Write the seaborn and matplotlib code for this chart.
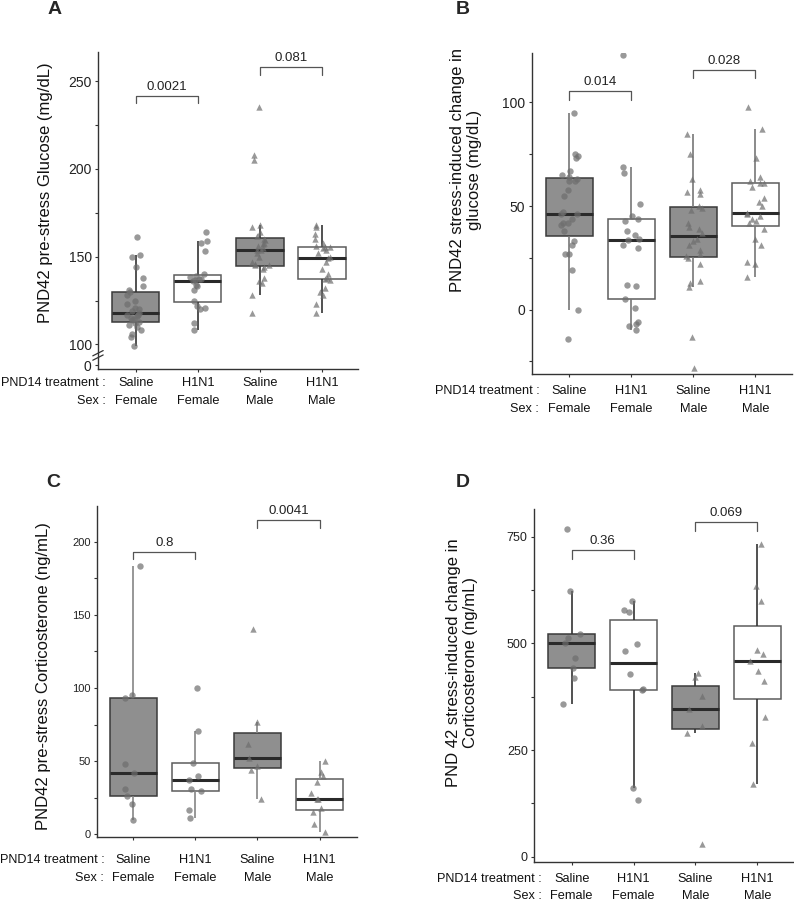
import numpy as np
import pandas as pd
import matplotlib
matplotlib.use("Agg")
import matplotlib.pyplot as plt
import seaborn as sns

# --- data ---
groups = ["Saline\nFemale", "H1N1\nFemale", "Saline\nMale", "H1N1\nMale"]

# A: PND42 pre-stress glucose (mg/dL)
glu_sal_f = [161, 151, 150, 144, 138, 133, 131, 130, 128, 125, 123, 121, 120, 119, 118,
             117, 116.5, 116, 115, 114.5, 114, 113, 112, 111, 110, 108, 106, 104, 99]
glu_h1_f = [164, 159, 158, 153, 140, 139, 138.5, 137.5, 137, 136.5, 136, 134, 133, 131,
            125, 122, 121, 120, 112, 108]
glu_sal_m = [235, 208, 205, 168, 167, 164, 162, 160, 159.5, 158, 157, 156, 155, 154, 153.5,
             152, 150, 147, 146, 145, 145, 144, 143, 138, 136, 135, 128, 118]
glu_h1_m = [168, 167, 163, 160, 158, 156, 155.5, 155.2, 155, 154, 152, 150, 149, 147, 143,
            140, 138, 137.5, 136.5, 132, 130, 128, 123, 118]

# B: PND42 stress-induced change in glucose (mg/dL)
dglu_sal_f = [95, 75, 74, 73, 67, 65, 64, 63, 62, 62, 58, 55, 47, 46, 46, 44, 42, 42, 41,
              38, 33, 31, 27, 27, 19, 0, -14]
dglu_h1_f = [123, 69, 66, 51, 45, 44, 43, 38, 36, 34, 33.5, 31, 30, 12, 11.5, 5, 1, -6, -7,
             -8, -10]
dglu_sal_m = [85, 75, 63, 58, 57, 56, 50, 49, 48, 42, 40, 39, 37, 34, 33, 31, 29, 27, 26, 25,
              22, 14, 13, 11, -13, -28]
dglu_h1_m = [98, 87, 73, 64, 62, 61, 61, 59, 54, 52, 50, 46.5, 46, 45, 44, 43, 42, 39, 34,
             31, 23, 22, 16]

# C: PND42 pre-stress corticosterone (ng/mL)
cort_sal_f = [183, 95, 93, 48, 42, 31, 26, 21, 10]
cort_h1_f = [100, 71, 49, 40, 37, 31, 29.5, 17, 11]
cort_sal_m = [140, 77, 62, 52, 47, 44, 24]
cort_h1_m = [50, 43, 40, 36, 28, 24.5, 24, 18, 15.5, 7, 2]

# D: PND 42 stress-induced change in corticosterone (ng/mL)
dcort_sal_f = [768, 623, 521, 512, 500, 466, 443, 418, 359]
dcort_h1_f = [598, 577, 573, 498, 482, 427, 392, 390, 162, 133]
dcort_sal_m = [430, 422, 377, 346, 306, 291, 30]
dcort_h1_m = [732, 635, 599, 484, 474, 458, 435, 411, 328, 266, 170]

# p-values (Saline vs H1N1, females then males)
p_A = ["0.0021", "0.081"]
p_B = ["0.014", "0.028"]
p_C = ["0.8", "0.0041"]
p_D = ["0.36", "0.069"]

# --- style ---
sns.set_theme(style="ticks")
plt.rcParams["font.family"] = ["Liberation Sans", "DejaVu Sans"]
SAL_FILL = "#8f8f8f"
PT_COL = "#6e6e6e"
LSP = 1.62
np.random.seed(3)


def make_df(vals):
    df = pd.DataFrame({"group": np.repeat(groups, [len(v) for v in vals]),
                       "value": np.concatenate(vals)})
    df["treat"] = df["group"].str.split("\n").str[0]
    df["sex"] = df["group"].str.split("\n").str[1]
    return df


def panel(ax, vals, ylabel, lab_xy, ylim, xlim, ticks, ticklabels, ysize, whisk,
          pvals, brk, xpad):
    df = make_df(vals)
    for treat, face, edge in [("Saline", SAL_FILL, "#3a3a3a"), ("H1N1", "white", "#5c5c5c")]:
        sns.boxplot(data=df[df.treat == treat], x="group", y="value", order=groups,
                    color=face, linecolor=edge, linewidth=1.1, width=0.76, saturation=1,
                    showfliers=False, showcaps=False,
                    medianprops={"color": "#2a2a2a", "linewidth": 2.2},
                    whiskerprops={"color": whisk, "linewidth": 1.2}, ax=ax)
    for sex, mk in [("Female", "o"), ("Male", "^")]:
        sns.stripplot(data=df[df.sex == sex], x="group", y="value", order=groups,
                      marker=mk, color=PT_COL, alpha=0.7, size=4.6, jitter=0.15,
                      linewidth=0, ax=ax)

    # significance brackets
    for (i, j), (y0, y1), txt in zip([(0, 1), (2, 3)], brk, pvals):
        ax.plot([i, i, j, j], [y0, y1, y1, y0], color="#555555", lw=0.9, clip_on=False)
        ax.annotate(txt, xy=((i + j) / 2, y1), xytext=(0, 2), textcoords="offset points",
                    ha="center", va="bottom", fontsize=9.5, color="#222222")

    ax.set_xlim(*xlim)
    ax.set_ylim(*ylim)
    ax.set_yticks(ticks)
    ax.set_yticklabels(ticklabels)
    ax.set_xlabel("")
    ax.set_ylabel(ylabel, fontsize=12, color="#111111", linespacing=1.15)
    ax.yaxis.set_label_coords(*lab_xy)
    sns.despine(ax=ax)
    for sp in ax.spines.values():
        sp.set_color("#333333")
        sp.set_linewidth(1.0)
    ax.tick_params(axis="y", length=2.5, width=0.8, color="#333333", labelsize=ysize,
                   labelcolor="#222222", pad=2)
    ax.tick_params(axis="x", length=2.5, width=0.8, color="#333333", labelsize=9.2,
                   labelcolor="#111111", pad=xpad)
    for t in ax.get_xticklabels():
        t.set_linespacing(LSP)
    ax.annotate("PND14 treatment :\nSex :", xy=(0, 0), xycoords="axes fraction",
                xytext=(5.5, -(2.5 + xpad)), textcoords="offset points",
                ha="right", va="top", fontsize=9.1, color="#111111",
                multialignment="right", linespacing=LSP, annotation_clip=False)


fig = plt.figure(figsize=(7.94, 9.02), dpi=100)
axA = fig.add_axes([0.1234, 0.5909, 0.3275, 0.3514])
axB = fig.add_axes([0.6696, 0.5850, 0.3278, 0.3565])
axC = fig.add_axes([0.1218, 0.0724, 0.3275, 0.3670])
axD = fig.add_axes([0.6725, 0.0440, 0.3266, 0.3914])

panel(axA, [glu_sal_f, glu_h1_f, glu_sal_m, glu_h1_m],
      "PND42 pre-stress Glucose (mg/dL)", (-0.173, 0.555),
      (86, 266.5), (-0.61, 3.58),
      [88, 100, 125, 150, 175, 200, 225, 250], ["0", "100", "", "150", "", "200", "", "250"],
      10, "#333333", p_A, [(237.6, 241.4), (253.5, 258)], 3.5)
# axis break on panel A
axA.plot([-0.02, 0.02], [91, 94], transform=axA.get_yaxis_transform(), color="#333333",
         lw=0.9, clip_on=False)
axA.plot([-0.02, 0.02], [93.5, 96.5], transform=axA.get_yaxis_transform(), color="#333333",
         lw=0.9, clip_on=False)

panel(axB, [dglu_sal_f, dglu_h1_f, dglu_sal_m, dglu_h1_m],
      "PND42 stress-induced change in\nglucose (mg/dL)", (-0.191, 0.635),
      (-31.2, 124), (-0.607, 3.59),
      [-25, 0, 25, 50, 75, 100], ["", "0", "", "50", "", "100"],
      10, "#777777", p_B, [(101, 105.5), (111.8, 115.8)], 5.5)

panel(axC, [cort_sal_f, cort_h1_f, cort_sal_m, cort_h1_m],
      "PND42 pre-stress Corticosterone (ng/mL)", (-0.176, 0.484),
      (-1.5, 224.5), (-0.59, 3.6),
      [0, 25, 50, 75, 100, 125, 150, 175, 200], ["0", "", "50", "", "100", "", "150", "", "200"],
      8, "#858585", p_C, [(188, 192.7), (209, 214.7)], 10.0)

panel(axD, [dcort_sal_f, dcort_h1_f, dcort_sal_m, dcort_h1_m],
      "PND 42 stress-induced change in\nCorticosterone (ng/mL)", (-0.216, 0.565),
      (-13, 814), (-0.61, 3.58),
      [0, 125, 250, 375, 500, 625, 750], ["0", "", "250", "", "500", "", "750"],
      9, "#333333", p_D, [(697.6, 718.7), (763, 783.6)], 5.0)

for letter, x, y in [("A", 55, 1), ("B", 463, 1), ("C", 53, 474), ("D", 463, 474)]:
    fig.text(x / 794, 1 - y / 902, letter, fontsize=14, fontweight="bold",
             ha="center", va="top")

fig.savefig("out.png", dpi=100)
